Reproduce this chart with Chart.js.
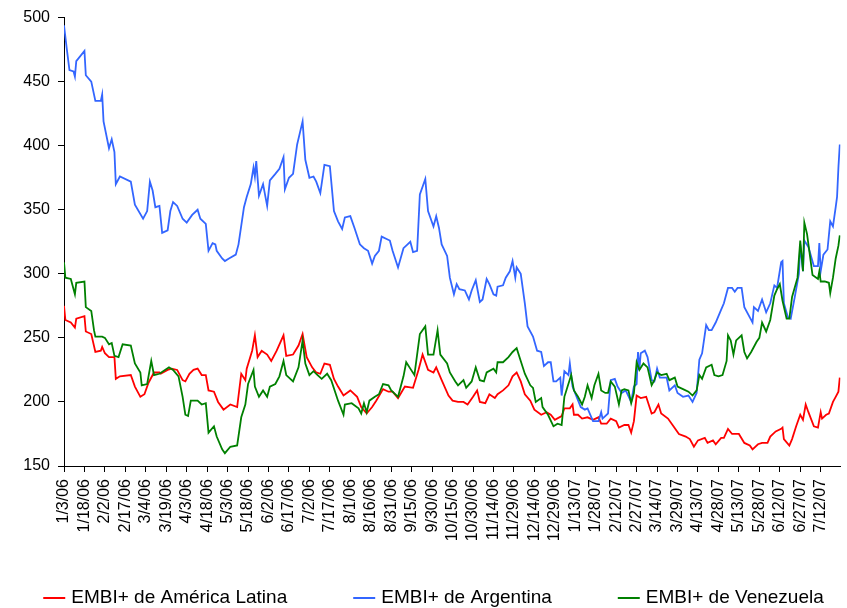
<!DOCTYPE html>
<html>
<head>
<meta charset="utf-8">
<script src="https://cdn.jsdelivr.net/npm/chart.js@4.4.1/dist/chart.umd.min.js"></script>
<style>
  html, body { margin: 0; padding: 0; background: #fff; }
  #caja { width: 847px; height: 608px; position: relative; }
</style>
</head>
<body>
<div id="caja"><canvas id="grafico"></canvas></div>
<script>
// Días contados desde el 3/1/2006 y spread (pb)
const diasAL = [0,1,5,8,9,15,16,20,23,27,28,30,33,37,38,41,49,52,56,59,62,66,70,71,76,79,83,87,89,92,95,98,101,104,106,110,113,117,122,127,130,133,134,138,140,142,145,149,152,156,161,163,168,172,175,178,182,185,188,191,195,198,201,205,210,215,218,222,226,229,234,238,241,245,250,256,260,263,267,271,273,277,282,285,289,293,296,300,303,305,309,312,316,318,322,326,329,332,335,338,342,345,350,354,357,360,365,367,371,373,374,377,380,384,388,392,394,398,401,405,407,411,414,416,418,420,423,427,431,433,436,438,443,447,451,456,459,462,465,470,472,476,478,482,484,487,490,495,499,503,505,509,512,516,518,522,526,527,528,532,534,537,540,542,544,546,550,553,555,556,559,561,564,566,568,569];
const spreadAL = [275,264,262,258,265,267,255,253,239,240,243,238,235,235,218,220,221,212,204,206,215,223,223,222,225,226,225,217,216,222,225,226,221,221,209,208,200,194,198,196,222,217,226,240,252,235,240,237,232,240,252,236,237,244,253,235,227,223,222,230,229,218,212,205,209,204,196,191,196,201,210,208,208,203,212,211,225,237,225,223,227,217,205,201,200,200,198,204,209,200,199,206,203,206,209,213,220,223,216,206,201,194,190,192,190,186,189,195,195,198,190,190,187,188,186,188,183,183,187,185,180,182,182,176,185,205,203,204,191,192,198,191,187,181,175,173,171,165,170,172,168,170,167,172,172,179,175,175,168,166,163,167,168,168,173,177,179,180,171,166,171,181,190,186,198,192,181,180,192,187,190,191,200,204,208,219];

const diasArg = [0,2,4,7,8,9,15,16,20,23,27,28,29,33,35,37,38,41,49,52,58,61,63,65,67,70,72,76,78,80,83,87,90,94,98,100,104,106,109,111,112,116,118,121,126,128,132,134,137,139,140,141,143,146,149,151,155,158,161,162,165,168,171,173,175,177,180,183,185,188,191,195,198,201,204,206,210,213,217,220,223,226,228,231,233,237,239,241,245,249,252,254,256,259,261,265,267,271,273,275,277,281,283,286,288,290,294,297,299,302,305,307,310,312,315,317,318,322,324,327,329,331,332,335,338,340,344,347,350,352,355,357,359,361,364,365,367,370,371,373,376,379,382,384,388,392,394,395,399,401,404,406,409,412,416,418,420,421,422,423,426,428,431,433,435,437,442,444,448,450,454,458,461,464,466,468,471,473,475,478,482,484,487,490,492,494,497,499,503,505,506,509,512,515,518,521,523,526,527,528,531,533,536,539,540,542,543,546,550,553,554,555,557,560,562,564,566,567,568,569];
const spreadArg = [494,476,459,458,454,466,474,455,450,435,435,440,419,398,405,395,370,376,372,354,343,349,372,365,352,353,332,334,349,356,353,343,340,346,350,343,339,318,324,323,318,312,310,312,315,323,352,360,370,383,376,388,361,370,353,373,378,382,391,366,375,378,401,410,419,389,375,376,372,363,385,384,349,341,335,344,345,336,323,320,318,308,314,318,329,327,326,318,305,320,323,325,317,318,362,374,349,337,345,336,323,314,297,284,292,288,287,280,287,295,278,280,296,292,284,283,290,291,297,302,310,297,305,300,277,259,251,240,239,228,231,231,216,216,219,205,224,221,230,212,204,196,194,195,185,185,192,187,191,217,218,212,207,209,200,212,214,239,225,238,240,235,217,216,226,219,219,209,213,207,204,205,200,207,233,238,260,256,256,262,272,277,289,289,286,289,289,274,266,262,274,271,280,270,277,291,289,309,310,277,266,265,282,300,323,302,326,321,306,306,324,302,315,319,341,337,352,360,383,401];

const diasVen = [0,1,5,8,9,15,16,20,22,23,28,30,33,35,37,40,43,49,52,56,57,61,64,66,70,77,80,84,87,89,91,93,98,101,104,106,110,112,116,118,122,127,130,133,135,139,140,143,146,149,151,155,158,161,163,168,172,175,177,180,183,186,189,193,196,201,205,206,211,216,218,220,222,224,228,231,234,238,240,245,249,251,254,257,261,265,267,271,274,276,281,283,287,289,293,295,299,302,305,308,310,315,317,318,322,326,329,332,335,338,342,344,346,350,351,355,359,362,365,367,372,374,377,380,382,384,387,389,392,394,397,399,401,404,407,409,411,414,416,418,420,422,425,428,431,433,435,438,442,444,448,450,454,458,461,464,466,468,471,475,477,480,483,486,487,489,491,493,497,499,501,504,508,510,512,515,518,521,523,525,527,530,532,534,538,540,542,543,545,549,553,554,555,558,561,562,564,566,568,569];
const spreadVen = [309,297,296,284,293,294,274,271,256,251,251,250,245,246,236,235,245,244,230,223,213,214,232,221,222,227,225,220,204,190,189,201,201,198,199,176,181,173,163,160,165,166,188,198,214,225,212,204,209,204,212,214,220,232,221,216,227,248,230,221,224,221,218,222,217,201,190,198,199,195,191,199,192,201,204,206,214,213,209,204,220,231,226,221,253,259,237,237,256,237,230,223,216,213,217,211,216,227,217,216,223,226,223,231,231,235,239,242,232,222,213,211,200,203,196,190,181,183,182,204,221,209,204,198,204,213,203,213,222,209,207,207,216,212,198,209,210,209,199,207,231,225,230,227,213,217,223,221,222,217,219,212,210,208,205,209,221,218,227,229,221,220,221,232,252,248,237,248,252,239,234,239,247,250,262,255,264,283,288,292,279,265,265,282,297,326,302,340,331,299,296,302,294,294,293,285,297,312,322,330];

const etiquetas = ['EMBI+ de América Latina', 'EMBI+ de Argentina', 'EMBI+ de Venezuela'];
const colores = ['#ff0000', '#3366ff', '#008000'];

const fechaBase = Date.UTC(2006, 0, 3);
const fuente = '"Liberation Sans", Arial, sans-serif';

// convierte un día relativo en m/d/yy
const aFecha = (dia) => {
    const f = new Date(fechaBase + dia * 86400000);
    return `${f.getUTCMonth() + 1}/${f.getUTCDate()}/${String(f.getUTCFullYear()).slice(2)}`;
};

const serie = (dias, valores) => dias.map((d, i) => ({ x: d, y: valores[i] }));

// leyenda dibujada a mano para respetar el espaciado del original
const leyenda = {
    id: 'leyenda',
    afterDraw(chart) {
        const ctx = chart.ctx;
        ctx.save();
        ctx.font = `19px ${fuente}`;
        const largo = 22, hueco = 6, separacion = 66;
        const items = chart.data.datasets.map(ds => ({
            texto: ds.label, color: ds.borderColor, ancho: ctx.measureText(ds.label).width
        }));
        const total = items.reduce((s, it) => s + largo + hueco + it.ancho, 0) + separacion * (items.length - 1);
        let x = (chart.width - total) / 2 + 10;
        const y = chart.height - 10;
        items.forEach(it => {
            ctx.strokeStyle = it.color;
            ctx.lineWidth = 2;
            ctx.beginPath();
            ctx.moveTo(x, y);
            ctx.lineTo(x + largo, y);
            ctx.stroke();
            ctx.fillStyle = '#000';
            ctx.textBaseline = 'middle';
            ctx.textAlign = 'left';
            ctx.fillText(it.texto, x + largo + hueco, y);
            x += largo + hueco + it.ancho + separacion;
        });
        ctx.restore();
    }
};

const linea = (i, datos, orden) => ({
    label: etiquetas[i],
    data: datos,
    borderColor: colores[i],
    backgroundColor: colores[i],
    borderWidth: 1.8,
    pointRadius: 0,
    tension: 0,
    order: orden
});

new Chart(document.getElementById('grafico'), {
    type: 'line',
    data: {
        datasets: [
            linea(0, serie(diasAL, spreadAL), 3),
            linea(1, serie(diasArg, spreadArg), 2),
            linea(2, serie(diasVen, spreadVen), 1)
        ]
    },
    options: {
        responsive: true,
        maintainAspectRatio: false,
        animation: false,
        events: [],
        layout: { padding: { top: 16, right: 4, bottom: 42, left: 0 } },
        plugins: {
            legend: { display: false },
            tooltip: { enabled: false }
        },
        scales: {
            x: {
                type: 'linear',
                min: 0,
                max: 569.5,
                afterFit: (s) => { s.height = 100; },
                border: { display: true, color: '#000', width: 1 },
                grid: { drawOnChartArea: false, drawTicks: true, tickLength: 6, color: '#000' },
                ticks: {
                    stepSize: 15,
                    autoSkip: false,
                    includeBounds: false,
                    minRotation: 90,
                    maxRotation: 90,
                    padding: 7,
                    color: '#000',
                    font: { family: fuente, size: 16 },
                    callback: (v) => aFecha(v)
                }
            },
            y: {
                min: 150,
                max: 500,
                afterFit: (s) => { s.width = 64; },
                border: { display: true, color: '#000', width: 1 },
                grid: { drawOnChartArea: false, drawTicks: true, tickLength: 6, color: '#000' },
                ticks: {
                    stepSize: 50,
                    padding: 8,
                    color: '#000',
                    font: { family: fuente, size: 16 }
                }
            }
        }
    },
    plugins: [leyenda]
});
</script>
</body>
</html>
